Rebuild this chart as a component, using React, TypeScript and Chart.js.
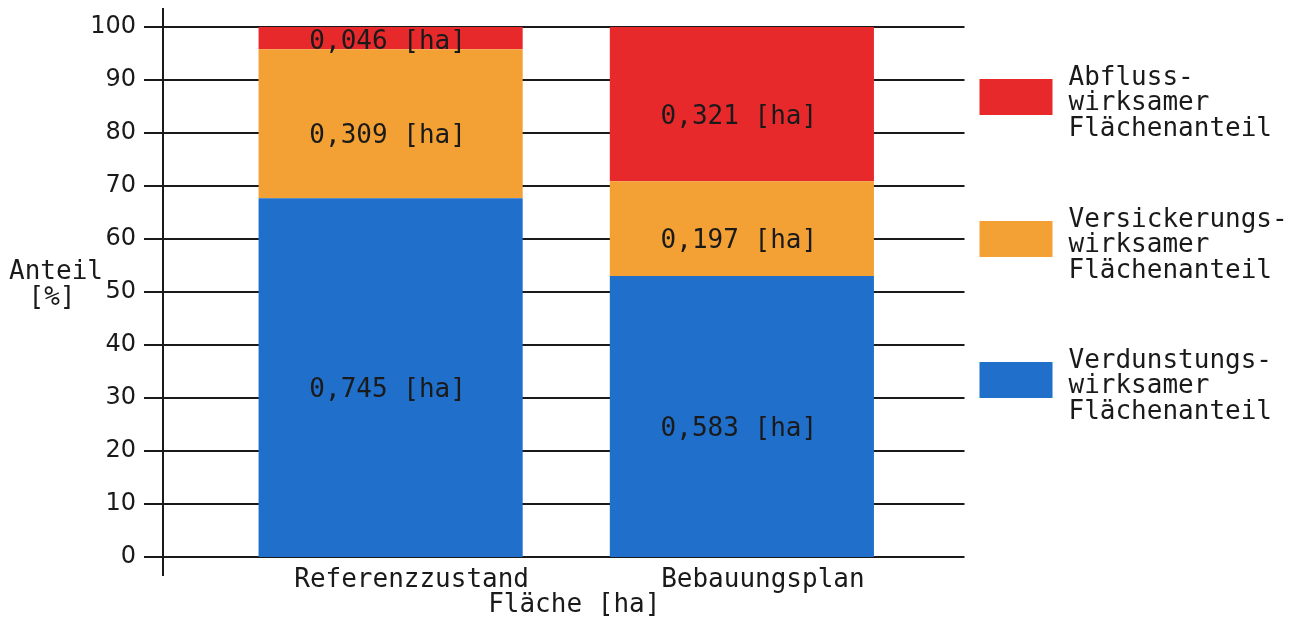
import React, { useEffect, useRef } from 'react';
import { Chart, registerables } from 'chart.js';

Chart.register(...registerables);

// ---- data ----
const categories = ['Referenzzustand', 'Bebauungsplan'];
const verdunstungPct = [67.7, 53.0];
const versickerungPct = [28.1, 17.9];
const abflussPct = [4.2, 29.1];
const verdunstungLabels = ['0,745 [ha]', '0,583 [ha]'];
const versickerungLabels = ['0,309 [ha]', '0,197 [ha]'];
const abflussLabels = ['0,046 [ha]', '0,321 [ha]'];
const verdunstungName = ['Verdunstungs-', 'wirksamer', 'Flächenanteil'];
const versickerungName = ['Versickerungs-', 'wirksamer', 'Flächenanteil'];
const abflussName = ['Abfluss-', 'wirksamer', 'Flächenanteil'];
const yAxisTitle = ['Anteil', '[%]'];
const xAxisTitle = 'Fläche [ha]';
const yMin = 0;
const yMax = 100;
const yStep = 10;

const MONO = "'DejaVu Sans Mono', 'Liberation Mono', monospace";
const SANS = "'DejaVu Sans', 'Liberation Sans', sans-serif";
const INK = '#1a1a1a';

const decorPlugin = {
  id: 'decor',
  beforeDatasetsDraw(chart: any) {
    const { ctx, chartArea, scales } = chart;
    const y = scales.y;
    ctx.save();
    ctx.strokeStyle = INK;
    ctx.lineWidth = 2;
    y.ticks.forEach((t: any) => {
      const py = Math.round(y.getPixelForValue(t.value));
      ctx.beginPath();
      ctx.moveTo(chartArea.left - 71, py);
      ctx.lineTo(chartArea.right + 47, py);
      ctx.stroke();
    });
    // vertical axis line
    const ax = chartArea.left - 52;
    ctx.beginPath();
    ctx.moveTo(ax, chartArea.top - 19);
    ctx.lineTo(ax, chartArea.bottom + 19);
    ctx.stroke();
    ctx.restore();
  },
  afterDraw(chart: any) {
    const { ctx, chartArea } = chart;
    ctx.save();
    ctx.fillStyle = INK;
    ctx.font = `26px ${MONO}`;
    ctx.textAlign = 'center';
    ctx.textBaseline = 'middle';

    // data labels inside segments
    chart.data.datasets.forEach((ds: any, di: number) => {
      const meta = chart.getDatasetMeta(di);
      meta.data.forEach((bar: any, i: number) => {
        const top = Math.min(bar.y, bar.base);
        const bottom = Math.max(bar.y, bar.base);
        const center = (top + bottom) / 2;
        const ly = Math.min(center + 13, bottom - 7);
        ctx.fillStyle = INK;
        ctx.fillText(ds.valueLabels[i], bar.x - 3, ly);
      });
    });

    // y axis title
    ctx.fillText(yAxisTitle[0], 56, 272);
    ctx.fillText(yAxisTitle[1], 52, 298);

    // x axis title
    ctx.fillText(xAxisTitle, (chartArea.left + chartArea.right) / 2 + 8, 605);

    // legend
    const boxX = chartArea.right + 62;
    const boxW = 73;
    const boxH = 36;
    const tops = [79, 221, 362];
    const order = [...chart.data.datasets].reverse();
    ctx.textAlign = 'left';
    order.forEach((ds: any, k: number) => {
      const top = tops[k];
      ctx.fillStyle = ds.backgroundColor;
      ctx.fillRect(boxX, top, boxW, boxH);
      ctx.fillStyle = INK;
      ds.legendLines.forEach((line: string, j: number) => {
        ctx.fillText(line, boxX + 89, top - 1 + j * 25.5);
      });
    });
    ctx.restore();
  },
};

export default function App() {
  const canvasRef = useRef<HTMLCanvasElement | null>(null);

  useEffect(() => {
    if (!canvasRef.current) return;
    const chart = new Chart(canvasRef.current, {
      type: 'bar',
      data: {
        labels: categories,
        datasets: [
          {
            label: verdunstungName.join(' '),
            data: verdunstungPct,
            backgroundColor: '#1f6fcb',
            valueLabels: verdunstungLabels,
            legendLines: verdunstungName,
          } as any,
          {
            label: versickerungName.join(' '),
            data: versickerungPct,
            backgroundColor: '#f3a134',
            valueLabels: versickerungLabels,
            legendLines: versickerungName,
          } as any,
          {
            label: abflussName.join(' '),
            data: abflussPct,
            backgroundColor: '#e8292c',
            valueLabels: abflussLabels,
            legendLines: abflussName,
          } as any,
        ],
      },
      options: {
        animation: false,
        responsive: true,
        maintainAspectRatio: false,
        layout: { padding: { top: 27, right: 384.5, bottom: 0, left: 0 }, autoPadding: false },
        datasets: {
          bar: { barPercentage: 0.752, categoryPercentage: 1.0, borderWidth: 0 },
        },
        plugins: {
          legend: { display: false },
          tooltip: { enabled: false },
        },
        scales: {
          x: {
            stacked: true,
            offset: true,
            grid: { display: false },
            border: { display: false },
            ticks: {
              color: INK,
              font: { family: MONO, size: 26 },
              padding: 0,
              labelOffset: 21,
              maxRotation: 0,
              autoSkip: false,
            },
            afterFit: (scale: any) => {
              scale.height = 62;
              scale.paddingLeft = 0;
              scale.paddingRight = 0;
            },
          },
          y: {
            stacked: true,
            min: yMin,
            max: yMax,
            grid: { display: false },
            border: { display: false },
            ticks: {
              stepSize: yStep,
              color: INK,
              font: { family: SANS, size: 24 },
              padding: 71,
            },
            afterFit: (scale: any) => {
              scale.width = 215;
              scale.paddingTop = 0;
              scale.paddingBottom = 0;
            },
          },
        },
      },
      plugins: [decorPlugin],
    });
    return () => chart.destroy();
  }, []);

  return (
    <div style={{ position: 'fixed', left: 0, top: 0, width: 1302, height: 619, background: '#fff' }}>
      <canvas ref={canvasRef} />
    </div>
  );
}
